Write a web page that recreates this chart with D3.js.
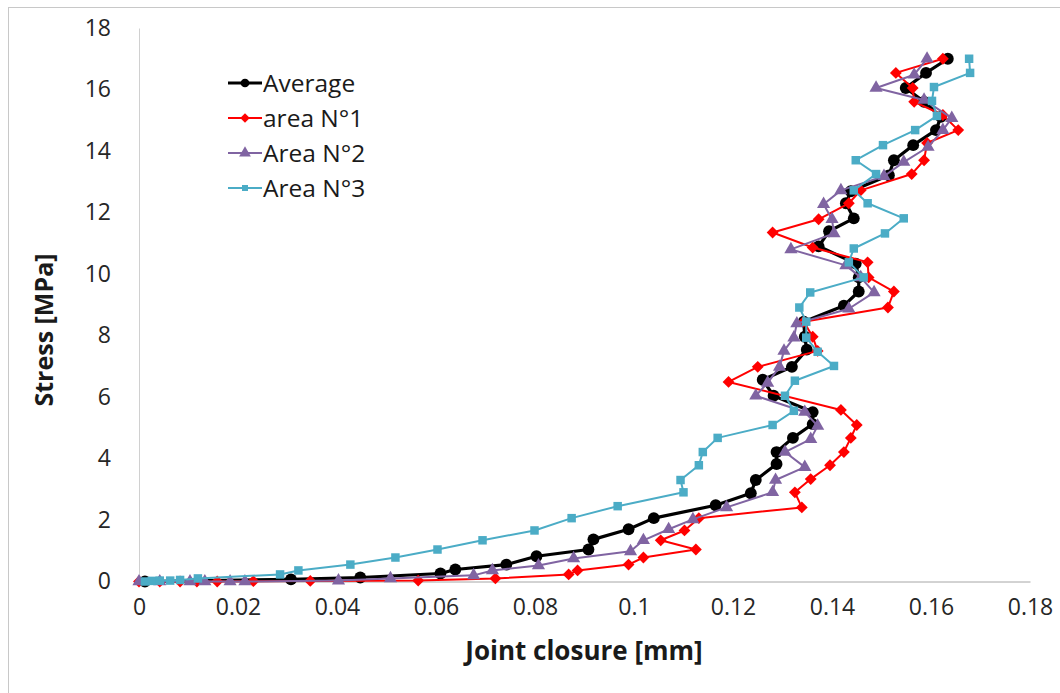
<!DOCTYPE html>
<html>
<head>
<meta charset="utf-8">
<script src="https://cdn.jsdelivr.net/npm/d3@7"></script>
<style>
  body { margin: 0; background: #fff; }
  text { font-family: "Open Sans", sans-serif; }
</style>
</head>
<body>
<div id="draw"></div>
<script>
// joint closure [mm], stress [MPa]
const average = [
  [0.0012, 0], [0.0307, 0.07], [0.0447, 0.13], [0.0609, 0.26], [0.0639, 0.39], [0.0742, 0.55],
  [0.0803, 0.82], [0.0908, 1.04], [0.0918, 1.37], [0.0989, 1.7], [0.104, 2.06], [0.1165, 2.48],
  [0.1236, 2.87], [0.1246, 3.3], [0.1288, 3.82], [0.1288, 4.21], [0.1321, 4.67], [0.1361, 5.12],
  [0.1361, 5.51], [0.1282, 6.04], [0.126, 6.56], [0.1319, 6.98], [0.1349, 7.54], [0.1345, 7.96],
  [0.1343, 8.45], [0.1424, 8.97], [0.1454, 9.43], [0.1454, 9.89], [0.1448, 10.34], [0.1373, 10.9],
  [0.1394, 11.39], [0.1444, 11.81], [0.1428, 12.3], [0.1438, 12.69], [0.1515, 13.21], [0.1525, 13.7],
  [0.1564, 14.19], [0.161, 14.68], [0.162, 15.11], [0.1586, 15.6], [0.1549, 16.05], [0.159, 16.54],
  [0.1634, 17.0]
];
const area1 = [
  [0, 0], [0.0042, 0], [0.0083, 0], [0.0117, 0], [0.0158, 0], [0.0231, 0.01], [0.0346, 0.02],
  [0.0564, 0.03], [0.072, 0.1], [0.0868, 0.23], [0.0886, 0.36], [0.0989, 0.55], [0.1019, 0.78],
  [0.1125, 1.04], [0.1054, 1.34], [0.1102, 1.66], [0.1131, 2.06], [0.1339, 2.41], [0.1325, 2.9],
  [0.1357, 3.33], [0.1396, 3.78], [0.1424, 4.21], [0.1438, 4.67], [0.145, 5.09], [0.1418, 5.58],
  [0.1191, 6.49], [0.125, 6.98], [0.1371, 7.5], [0.1361, 7.96], [0.1343, 8.45], [0.1513, 8.91],
  [0.1525, 9.43], [0.1474, 9.89], [0.1472, 10.38], [0.1361, 10.86], [0.128, 11.35], [0.1373, 11.78],
  [0.1434, 12.3], [0.1458, 12.72], [0.1561, 13.25], [0.1586, 13.7], [0.1592, 14.26], [0.1655, 14.68],
  [0.1624, 15.17], [0.1566, 15.6], [0.1563, 16.05], [0.1529, 16.54], [0.1624, 17.0]
];
const area2 = [
  [0, 0], [0.0042, 0], [0.0103, 0], [0.0133, 0], [0.0184, 0], [0.0214, 0], [0.0403, 0.03],
  [0.0508, 0.1], [0.0676, 0.2], [0.0714, 0.36], [0.0807, 0.52], [0.0878, 0.75], [0.0993, 0.98],
  [0.1019, 1.34], [0.107, 1.7], [0.1119, 2.02], [0.1187, 2.41], [0.128, 2.9], [0.1286, 3.3],
  [0.1345, 3.72], [0.1305, 4.21], [0.1357, 4.63], [0.1371, 5.06], [0.1345, 5.51], [0.1246, 6.04],
  [0.127, 6.46], [0.1294, 6.98], [0.1303, 7.5], [0.1323, 7.93], [0.1329, 8.39], [0.1434, 8.87],
  [0.1485, 9.4], [0.1458, 9.89], [0.1428, 10.28], [0.1317, 10.8], [0.1404, 11.32], [0.14, 11.78],
  [0.1383, 12.27], [0.1418, 12.72], [0.1505, 13.18], [0.1545, 13.64], [0.1594, 14.13], [0.1624, 14.68],
  [0.1642, 15.07], [0.1586, 15.66], [0.1489, 16.05], [0.1566, 16.48], [0.1592, 17.0]
];
const area3 = [
  [0.0012, 0], [0.0026, 0.02], [0.0042, 0.03], [0.0063, 0.03], [0.0083, 0.05], [0.0119, 0.1],
  [0.0285, 0.23], [0.0322, 0.36], [0.0427, 0.55], [0.0518, 0.78], [0.0603, 1.04], [0.0694, 1.34],
  [0.0799, 1.66], [0.0874, 2.06], [0.0967, 2.45], [0.110, 2.9], [0.1094, 3.3], [0.1131, 3.78],
  [0.1139, 4.21], [0.1169, 4.67], [0.128, 5.09], [0.1323, 5.55], [0.1305, 6.04], [0.1325, 6.53],
  [0.1404, 7.01], [0.1371, 7.47], [0.1348, 7.93], [0.1348, 8.45], [0.1334, 8.91], [0.1356, 9.4],
  [0.1464, 9.89], [0.1434, 10.38], [0.1444, 10.83], [0.1507, 11.32], [0.1545, 11.81], [0.1472, 12.3],
  [0.1444, 12.72], [0.1489, 13.25], [0.1448, 13.7], [0.1503, 14.19], [0.1568, 14.68], [0.1612, 15.14],
  [0.1602, 15.63], [0.1606, 16.08], [0.1679, 16.54], [0.1677, 17.0]
];
const seriesNames = ['Average', 'area N°1', 'Area N°2', 'Area N°3'];
const xTicks = [0, 0.02, 0.04, 0.06, 0.08, 0.1, 0.12, 0.14, 0.16, 0.18];
const yTicks = [0, 2, 4, 6, 8, 10, 12, 14, 16, 18];

let width = 1060,
    height = 693,
    margin = { top: 28, left: 139, bottom: 112, right: 30 };

let svg = d3.select('#draw')
    .append('svg')
    .attr('width', width)
    .attr('height', height);

// outer chart frame
svg.append('rect')
    .attr('x', 8.5).attr('y', 7.5)
    .attr('width', 1100).attr('height', 800)
    .attr('fill', 'none')
    .attr('stroke', '#c8c8c8');

let xScale = d3.scaleLinear().domain([0, 0.18]).range([margin.left, width - margin.right]),
    yScale = d3.scaleLinear().domain([0, 18]).range([height - margin.bottom + 0.5, margin.top]);

let styles = [
    { color: '#000000', width: 3.2, symbol: d3.symbolCircle, size: 110, rot: 0, leg: 60 },
    { color: '#ff0000', width: 2, symbol: d3.symbolSquare, size: 70, rot: 45, leg: 45 },
    { color: '#8064a2', width: 2, symbol: d3.symbolTriangle, size: 75, rot: 0, leg: 60 },
    { color: '#4bacc6', width: 2, symbol: d3.symbolSquare, size: 72, rot: 0, leg: 36 }
];
let allSeries = [average, area1, area2, area3];

// axes
let xAxis = svg.append('g')
    .attr('transform', 'translate(0,' + yScale(0) + ')')
    .call(d3.axisBottom(xScale).tickValues(xTicks).tickSize(0).tickPadding(17).tickFormat(d => d3.format('~g')(d)));
let yAxis = svg.append('g')
    .attr('transform', 'translate(' + xScale(0) + ',0)')
    .call(d3.axisLeft(yScale).tickValues(yTicks).tickSize(0).tickPadding(28));
xAxis.select('.domain').attr('stroke', '#a6a6a6');
yAxis.select('.domain').attr('stroke', '#d0d0d0');
svg.selectAll('.tick text')
    .attr('font-family', '"Open Sans", sans-serif')
    .attr('font-size', 23)
    .attr('fill', '#262626');

svg.append('text')
    .attr('transform', 'translate(53,' + 330 + ') rotate(-90)')
    .attr('text-anchor', 'middle')
    .attr('font-size', 25)
    .attr('font-weight', 'bold')
    .attr('fill', '#1a1a1a')
    .text('Stress [MPa]');
svg.append('text')
    .attr('x', 584).attr('y', 660)
    .attr('text-anchor', 'middle')
    .attr('font-size', 26)
    .attr('font-weight', 'bold')
    .attr('fill', '#1a1a1a')
    .text('Joint closure [mm]');

let line = d3.line().x(d => xScale(d[0])).y(d => yScale(d[1]));

allSeries.forEach((data, i) => {
    let s = styles[i];
    let g = svg.append('g');
    g.append('path')
        .datum(data)
        .attr('d', line)
        .attr('fill', 'none')
        .attr('stroke', s.color)
        .attr('stroke-width', s.width)
        .attr('stroke-linejoin', 'round');
    g.selectAll('path.m')
        .data(data)
        .enter()
        .append('path')
        .attr('class', 'm')
        .attr('d', d3.symbol().type(s.symbol).size(s.size))
        .attr('transform', d => 'translate(' + xScale(d[0]) + ',' + yScale(d[1]) + ') rotate(' + s.rot + ')')
        .attr('fill', s.color);
});

// legend
let legend = svg.append('g').attr('transform', 'translate(228,83)');
seriesNames.forEach((name, i) => {
    let s = styles[i];
    let row = legend.append('g').attr('transform', 'translate(0,' + i * 35 + ')');
    row.append('line').attr('x1', 0).attr('x2', 34).attr('y1', 0).attr('y2', 0)
        .attr('stroke', s.color).attr('stroke-width', s.width);
    row.append('path')
        .attr('d', d3.symbol().type(s.symbol).size(s.leg))
        .attr('transform', 'translate(17,0) rotate(' + s.rot + ')')
        .attr('fill', s.color);
    row.append('text')
        .attr('x', 35).attr('y', 0).attr('dy', '0.35em')
        .attr('font-size', 24.5)
        .attr('fill', '#1a1a1a')
        .text(name);
});
</script>
</body>
</html>
